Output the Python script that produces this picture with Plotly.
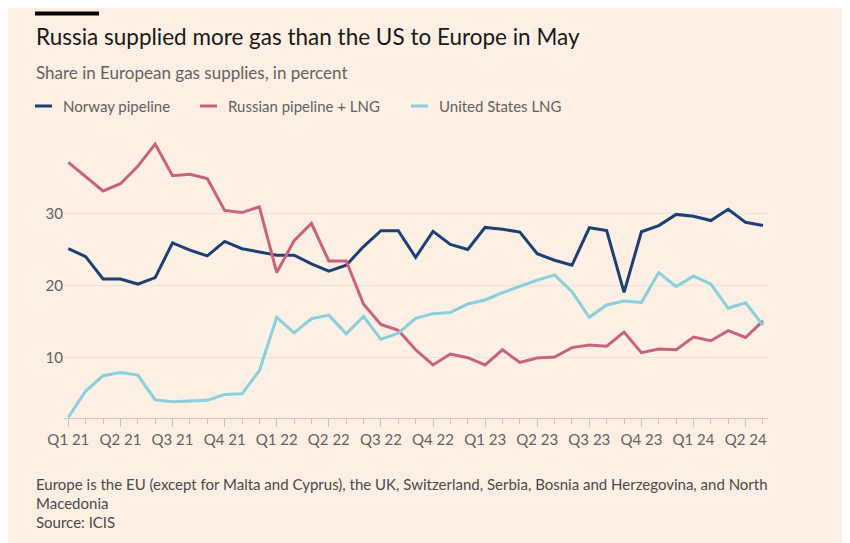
import plotly.graph_objects as go

months = [f"{m} {y}" for y in (2021, 2022, 2023, 2024)
          for m in ("Jan", "Feb", "Mar", "Apr", "May", "Jun", "Jul", "Aug", "Sep", "Oct", "Nov", "Dec")][:41]

norway = [25.1, 24.0, 20.9, 20.9, 20.2, 21.1, 25.9, 24.9, 24.1, 26.1,
          25.1, 24.7, 24.2, 24.2, 23.0, 22.0, 22.8, 25.4, 27.6, 27.6,
          23.9, 27.5, 25.7, 25.0, 28.05, 27.8, 27.4, 24.4, 23.5, 22.8,
          28.0, 27.6, 19.05, 27.45, 28.3, 29.85, 29.6, 29.0, 30.55, 28.75,
          28.3]
russia = [37.05, 35.1, 33.1, 34.1, 36.5, 39.6, 35.2, 35.4, 34.8, 30.4,
          30.1, 30.9, 21.8, 26.2, 28.6, 23.4, 23.4, 17.4, 14.6, 13.8,
          11.1, 9.0, 10.5, 10.0, 9.0, 11.1, 9.35, 9.95, 10.1, 11.4,
          11.75, 11.6, 13.55, 10.7, 11.2, 11.1, 12.85, 12.35, 13.75, 12.8,
          15.1]
us_lng = [1.75, 5.4, 7.5, 7.95, 7.6, 4.15, 3.9, 3.95, 4.1, 4.9,
          5.0, 8.2, 15.6, 13.45, 15.4, 15.9, 13.3, 15.7, 12.55, 13.4,
          15.45, 16.1, 16.25, 17.45, 18.0, 19.0, 19.85, 20.75, 21.45, 19.15,
          15.6, 17.3, 17.85, 17.65, 21.8, 19.85, 21.3, 20.2, 16.85, 17.6,
          14.5]

quarter_labels = ["Q1 21", "Q2 21", "Q3 21", "Q4 21", "Q1 22", "Q2 22", "Q3 22",
                  "Q4 22", "Q1 23", "Q2 23", "Q3 23", "Q4 23", "Q1 24", "Q2 24"]
y_ticks = [10, 20, 30]

series_names = ["Norway pipeline", "Russian pipeline + LNG", "United States LNG"]
colors = ["#1E3F73", "#C9637C", "#8ACFDC"]

BG = "#FCF0E5"
FONT = "Lato"
x_idx = list(range(len(months)))

fig = go.Figure()
for name, vals, col in zip(series_names, [norway, russia, us_lng], colors):
    fig.add_trace(go.Scatter(x=x_idx, y=vals, mode="lines", name=name,
                             line=dict(color=col, width=3),
                             hovertext=months, showlegend=False))

# page body adds 8px offset; work in reference-screen pixels
O = 8
W, H = 850 - O, 543 - O
L, T = 64 - O, 138 - O
R = W - (768 - O)
B = H - (418 - O)
PW, PH = W - L - R, H - T - B


def px(x):
    return (x - O - L) / PW


def py(y):
    return (H - B - (y - O)) / PH


fig.update_layout(
    width=W, height=H,
    margin=dict(l=L, r=R, t=T, b=B),
    paper_bgcolor=BG, plot_bgcolor=BG,
    font=dict(family=FONT, color="#66605C"),
    xaxis=dict(range=[-0.25, 40.29], tickmode="array",
               tickvals=[3 * i for i in range(len(quarter_labels))],
               ticktext=quarter_labels, ticks="outside", ticklen=8,
               tickcolor="#CFC4BA", tickfont=dict(size=15, color="#66605C"),
               showline=True, linecolor="#CFC4BA", linewidth=1,
               showgrid=False, zeroline=False,
               minor=dict(dtick=1, tick0=0, ticks="outside", ticklen=5,
                          tickcolor="#CFC4BA", showgrid=False)),
    yaxis=dict(range=[1.65, 40.43], tickvals=y_ticks,
               tickfont=dict(size=15, color="#66605C"),
               showgrid=True, gridcolor="#EDE2D8", gridwidth=1,
               zeroline=False, showline=False, ticks=""),
    showlegend=False,
)

# top black bar
fig.add_shape(type="rect", xref="paper", yref="paper",
              x0=px(35), x1=px(99), y0=py(15.5), y1=py(11.5),
              fillcolor="#000000", line=dict(width=0))

fig.add_annotation(xref="paper", yref="paper", x=px(34), y=py(37),
                   xanchor="left", yanchor="middle", showarrow=False,
                   text="Russia supplied more gas than the US to Europe in May",
                   font=dict(size=22.5, color="#1A1816", family=FONT))
fig.add_annotation(xref="paper", yref="paper", x=px(34), y=py(73),
                   xanchor="left", yanchor="middle", showarrow=False,
                   text="Share in European gas supplies, in percent",
                   font=dict(size=17, color="#66605C", family=FONT))

legend_pos = [(35, 52, 61), (200, 217, 226), (411, 428, 437)]
for (x0, x1, xt), name, col in zip(legend_pos, series_names, colors):
    fig.add_shape(type="line", xref="paper", yref="paper",
                  x0=px(x0), x1=px(x1), y0=py(106), y1=py(106),
                  line=dict(color=col, width=3))
    fig.add_annotation(xref="paper", yref="paper", x=px(xt), y=py(106),
                       xanchor="left", yanchor="middle", showarrow=False,
                       text=name, font=dict(size=15, color="#66605C", family=FONT))

notes = ["Europe is the EU (except for Malta and Cyprus), the UK, Switzerland, Serbia, Bosnia and Herzegovina, and North",
         "Macedonia", "Source: ICIS"]
for i, t in enumerate(notes):
    fig.add_annotation(xref="paper", yref="paper", x=px(34), y=py(484 + 19 * i),
                       xanchor="left", yanchor="middle", showarrow=False,
                       text=t, font=dict(size=15, color="#4D4845", family=FONT))

fig.write_html("out.html")
